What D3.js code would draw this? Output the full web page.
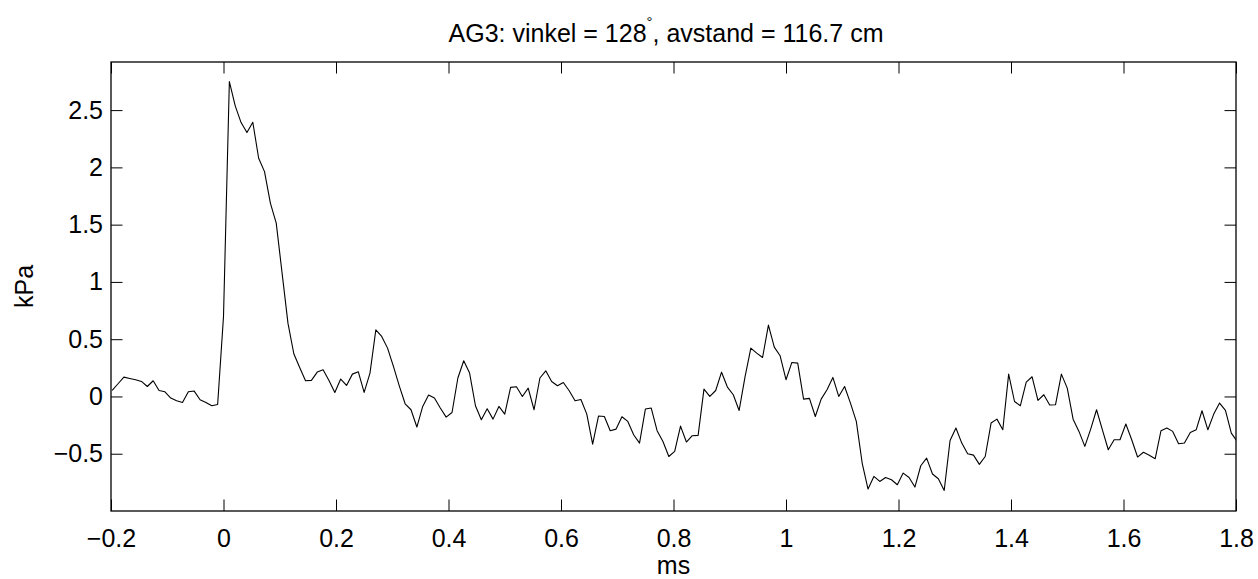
<!DOCTYPE html>
<html>
<head>
<meta charset="utf-8">
<script src="https://cdn.jsdelivr.net/npm/d3@7"></script>
<style>
  body { margin: 0; background: #fff; }
  svg text { font-family: "Liberation Sans", Arial, sans-serif; fill: #000; }
</style>
</head>
<body>
<div id="chart"></div>
<script>
// pressure trace, sampled at 96 kHz, first sample at k = -19
const sampleRate = 96;       // samples per ms
const firstSample = -19;
const kPa = [
  0.053, 0.111, 0.169, 0.157, 0.146, 0.131, 0.087, 0.137, 0.052, 0.041,
  -0.014, -0.038, -0.052, 0.041, 0.047, -0.029, -0.052, -0.081, -0.070,
  0.698, 2.749, 2.537, 2.391, 2.304, 2.394, 2.080, 1.963, 1.688, 1.513,
  1.077, 0.640, 0.373, 0.253, 0.137, 0.140, 0.213, 0.233, 0.140, 0.035,
  0.152, 0.096, 0.195, 0.216, 0.035, 0.204, 0.582, 0.524, 0.422, 0.262,
  0.093, -0.064, -0.116, -0.267, -0.087, 0.012, -0.014, -0.101, -0.180, -0.140,
  0.161, 0.312, 0.204, -0.081, -0.203, -0.107, -0.198, -0.087, -0.154, 0.079,
  0.085, 0.000, 0.073, -0.116, 0.161, 0.224, 0.131, 0.093, 0.122, 0.050,
  -0.038, -0.026, -0.154, -0.416, -0.171, -0.175, -0.299, -0.285, -0.177, -0.218,
  -0.334, -0.407, -0.110, -0.101, -0.299, -0.393, -0.524, -0.480, -0.259, -0.398,
  -0.343, -0.340, 0.064, 0.000, 0.052, 0.212, 0.082, 0.015, -0.122, 0.169,
  0.422, 0.378, 0.340, 0.623, 0.431, 0.355, 0.146, 0.297, 0.291, -0.023,
  -0.017, -0.175, -0.023, 0.058, 0.166, 0.000, 0.087, -0.058, -0.218, -0.581,
  -0.808, -0.698, -0.742, -0.707, -0.727, -0.771, -0.669, -0.707, -0.791, -0.605,
  -0.538, -0.677, -0.718, -0.820, -0.384, -0.276, -0.407, -0.500, -0.512, -0.593,
  -0.524, -0.232, -0.198, -0.291, 0.195, -0.044, -0.081, 0.125, 0.172, -0.035,
  0.015, -0.075, -0.072, 0.195, 0.073, -0.198, -0.305, -0.436, -0.285, -0.116,
  -0.291, -0.465, -0.378, -0.378, -0.241, -0.378, -0.529, -0.487, -0.513, -0.544,
  -0.299, -0.276, -0.305, -0.413, -0.407, -0.314, -0.291, -0.125, -0.291, -0.154,
  -0.058, -0.122, -0.320, -0.393
];
const xTicks = [-0.2, 0, 0.2, 0.4, 0.6, 0.8, 1, 1.2, 1.4, 1.6, 1.8];
const yTicks = [-0.5, 0, 0.5, 1, 1.5, 2, 2.5];

const W = 1258, H = 579;
const box = { left: 111, right: 1236, top: 62, bottom: 511 };
const fs = 25, tickLen = 11.5;

const x = d3.scaleLinear().domain([-0.2, 1.8]).range([box.left, box.right]);
const y = d3.scaleLinear().domain([-1, 2.92]).range([box.bottom, box.top]);
const fmt = d => String(+d.toFixed(1)).replace("-", "\u2212");

const svg = d3.select("#chart").append("svg")
  .attr("width", W).attr("height", H);

svg.append("defs").append("clipPath").attr("id", "clip")
  .append("rect")
  .attr("x", box.left).attr("y", box.top)
  .attr("width", box.right - box.left).attr("height", box.bottom - box.top);

// trace
const line = d3.line()
  .x((d, i) => x((firstSample + i) / sampleRate))
  .y(d => y(d));

svg.append("path")
  .datum(kPa)
  .attr("clip-path", "url(#clip)")
  .attr("fill", "none")
  .attr("stroke", "#000")
  .attr("stroke-width", 1.1)
  .attr("stroke-linejoin", "round")
  .attr("d", line);

// axes: ticks inward on all four sides (matlab style)
const axBottom = svg.append("g").attr("transform", `translate(0,${box.bottom})`)
  .call(d3.axisBottom(x).tickValues(xTicks).tickSize(-tickLen).tickFormat(fmt).tickPadding(18));
const axTop = svg.append("g").attr("transform", `translate(0,${box.top})`)
  .call(d3.axisTop(x).tickValues(xTicks).tickSize(-tickLen).tickFormat(""));
const axLeft = svg.append("g").attr("transform", `translate(${box.left},0)`)
  .call(d3.axisLeft(y).tickValues(yTicks).tickSize(-tickLen).tickFormat(fmt).tickPadding(8));
const axRight = svg.append("g").attr("transform", `translate(${box.right},0)`)
  .call(d3.axisRight(y).tickValues(yTicks).tickSize(-tickLen).tickFormat(""));

[axBottom, axTop, axLeft, axRight].forEach(g => {
  g.select(".domain").remove();
  g.selectAll(".tick line").attr("stroke", "#000").attr("stroke-width", 1);
  g.selectAll("text").attr("font-size", fs).attr("font-family", null);
});

svg.append("rect")
  .attr("x", box.left).attr("y", box.top)
  .attr("width", box.right - box.left).attr("height", box.bottom - box.top)
  .attr("fill", "none").attr("stroke", "#000").attr("stroke-width", 1.3);

// labels
svg.append("text")
  .attr("x", (box.left + box.right) / 2).attr("y", 574)
  .attr("text-anchor", "middle").attr("font-size", fs)
  .text("ms");

svg.append("text")
  .attr("transform", `translate(33,${(box.top + box.bottom) / 2}) rotate(-90)`)
  .attr("text-anchor", "middle").attr("font-size", fs)
  .text("kPa");

const title = svg.append("text")
  .attr("x", 666).attr("y", 42)
  .attr("text-anchor", "middle").attr("font-size", fs);
title.append("tspan").text("AG3: vinkel = 128");
title.append("tspan").attr("font-size", 15).attr("dy", -15).text("\u00b0");
title.append("tspan").attr("dy", 15).text(", avstand = 116.7 cm");
</script>
</body>
</html>
